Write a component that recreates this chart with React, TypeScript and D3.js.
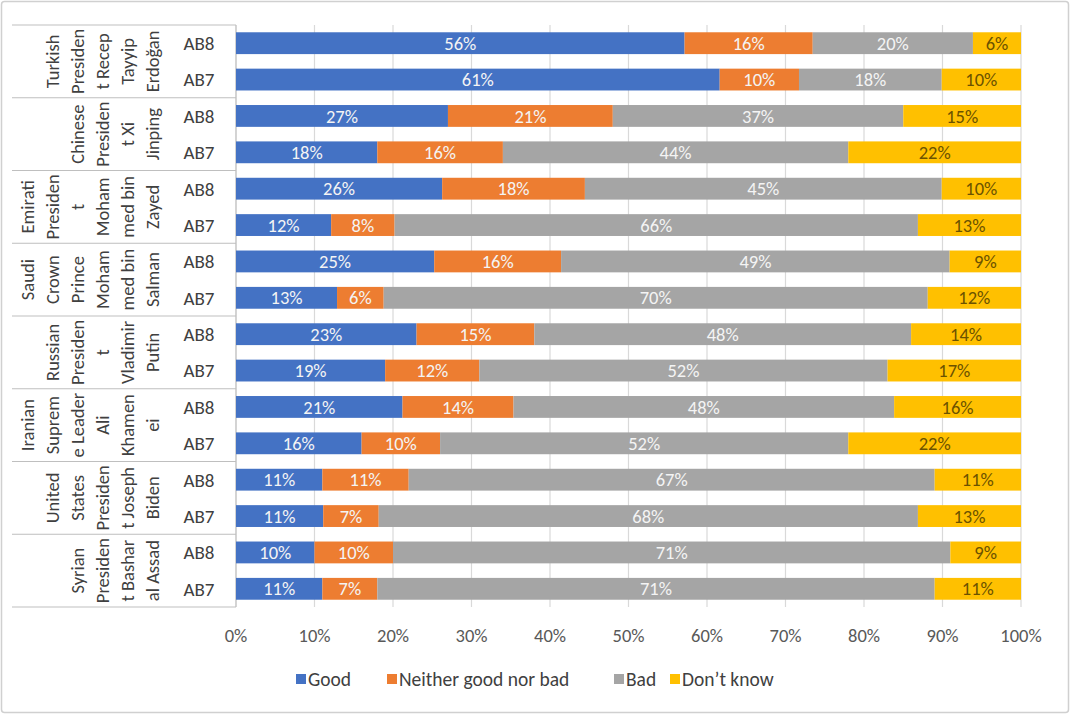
import React from 'react';
import * as d3 from 'd3';

// Leaders (group labels already wrapped the way the chart shows them)
const groups: string[][] = [
  ['Turkish', 'Presiden', 't Recep', 'Tayyip', 'Erdoğan'],
  ['Chinese', 'Presiden', 't Xi', 'Jinping'],
  ['Emirati', 'Presiden', 't', 'Moham', 'med bin', 'Zayed'],
  ['Saudi', 'Crown', 'Prince', 'Moham', 'med bin', 'Salman'],
  ['Russian', 'Presiden', 't', 'Vladimir', 'Putin'],
  ['Iranian', 'Suprem', 'e Leader', 'Ali', 'Khamen', 'ei'],
  ['United', 'States', 'Presiden', 't Joseph', 'Biden'],
  ['Syrian', 'Presiden', 't Bashar', 'al Assad'],
];
const waves = ['AB8', 'AB7'];

const seriesNames = ['Good', 'Neither good nor bad', 'Bad', 'Don’t know'];
const seriesColors = ['#4472C4', '#ED7D31', '#A5A5A5', '#FFC000'];

// one entry per bar, top to bottom (AB8 then AB7 for each leader)
const good = [56, 61, 27, 18, 26, 12, 25, 13, 23, 19, 21, 16, 11, 11, 10, 11];
const neither = [16, 10, 21, 16, 18, 8, 16, 6, 15, 12, 14, 10, 11, 7, 10, 7];
const bad = [20, 18, 37, 44, 45, 66, 49, 70, 48, 52, 48, 52, 67, 68, 71, 71];
const dontKnow = [6, 10, 15, 22, 10, 13, 9, 12, 14, 17, 16, 22, 11, 13, 9, 11];

const xTicks = [0, 0.1, 0.2, 0.3, 0.4, 0.5, 0.6, 0.7, 0.8, 0.9, 1];

const W = 1070;
const H = 714;
const FONT = 'Carlito, Lato, "Open Sans", sans-serif';

export default function App() {
  const left = 236;
  const right = 1021;
  const top = 25;
  const bottom = 607;

  const rows = groups.flatMap((_, gi) => waves.map((w) => `${gi}-${w}`));
  const table = rows.map((id, i) => ({
    id,
    wave: waves[i % 2],
    v0: good[i],
    v1: neither[i],
    v2: bad[i],
    v3: dontKnow[i],
  }));

  const keys = ['v0', 'v1', 'v2', 'v3'];
  const stacked = d3
    .stack<any>()
    .keys(keys)
    .offset(d3.stackOffsetExpand)(table);

  const x = d3.scaleLinear().domain([0, 1]).range([left, right]);
  const y = d3
    .scaleBand()
    .domain(rows)
    .range([top, bottom])
    .paddingInner(0.4)
    .paddingOuter(0.2);
  const groupBand = (bottom - top) / groups.length;

  const legendItems = [
    { x: 296, label: seriesNames[0], color: seriesColors[0] },
    { x: 387, label: seriesNames[1], color: seriesColors[1] },
    { x: 614, label: seriesNames[2], color: seriesColors[2] },
    { x: 670, label: seriesNames[3], color: seriesColors[3] },
  ];

  return (
    <div style={{ position: 'absolute', left: 0, top: 0 }}>
      <svg width={W} height={H} style={{ display: 'block', background: '#fff' }} fontFamily={FONT}>
        <rect x={1.5} y={1.5} width={W - 3} height={H - 3} rx={3} fill="#fff" stroke="#d0d0d0" strokeWidth={1.5} />

        {/* vertical gridlines */}
        {xTicks.map((t) => (
          <line key={t} x1={x(t)} x2={x(t)} y1={top} y2={bottom} stroke="#d9d9d9" strokeWidth={1.2} />
        ))}

        {/* category axis frame */}
        <line x1={left} x2={left} y1={top} y2={bottom} stroke="#bfbfbf" />
        {d3.range(groups.length + 1).map((i) => (
          <line
            key={i}
            x1={12}
            x2={left}
            y1={top + i * groupBand}
            y2={top + i * groupBand}
            stroke="#bfbfbf"
          />
        ))}

        {/* bars */}
        {stacked.map((layer, si) => (
          <g key={layer.key} fill={seriesColors[si]}>
            {layer.map((d, i) => (
              <rect
                key={i}
                x={x(d[0])}
                y={y(rows[i])}
                width={x(d[1]) - x(d[0])}
                height={y.bandwidth()}
              />
            ))}
          </g>
        ))}

        {/* bar labels */}
        {stacked.map((layer, si) => (
          <g key={'l' + layer.key} fontSize={18.5} textAnchor="middle" fill={si === 3 ? '#6b5200' : '#f4f4f4'}>
            {layer.map((d, i) => (
              <text key={i} x={(x(d[0]) + x(d[1])) / 2} y={(y(rows[i]) as number) + y.bandwidth() / 2} dy="0.36em">
                {`${(table[i] as any)[keys[si]]}%`}
              </text>
            ))}
          </g>
        ))}

        {/* wave labels */}
        {table.map((d, i) => (
          <text
            key={'w' + i}
            x={199}
            y={(y(rows[i]) as number) + y.bandwidth() / 2}
            dy="0.36em"
            textAnchor="middle"
            fontSize={19}
            fill="#404040"
          >
            {d.wave}
          </text>
        ))}

        {/* leader labels, rotated */}
        {groups.map((lines, gi) => {
          const cy = top + (gi + 0.5) * groupBand;
          return (
            <g key={'g' + gi}>
              {lines.map((ln, li) => {
                const cx = 152 - (lines.length - 1 - li) * 25;
                return (
                  <text
                    key={li}
                    transform={`translate(${cx},${cy}) rotate(-90)`}
                    dy="0.36em"
                    textAnchor="middle"
                    fontSize={18.5}
                    fill="#404040"
                  >
                    {ln}
                  </text>
                );
              })}
            </g>
          );
        })}

        {/* x axis tick labels */}
        {xTicks.map((t) => (
          <text key={'t' + t} x={x(t)} y={642} textAnchor="middle" fontSize={18.5} fill="#595959">
            {d3.format('.0%')(t)}
          </text>
        ))}

        {/* legend */}
        {legendItems.map((it) => (
          <g key={it.label}>
            <rect x={it.x} y={674} width={10} height={10} fill={it.color} />
            <text x={it.x + 12} y={686} fontSize={19.5} fill="#404040">
              {it.label}
            </text>
          </g>
        ))}
      </svg>
    </div>
  );
}
